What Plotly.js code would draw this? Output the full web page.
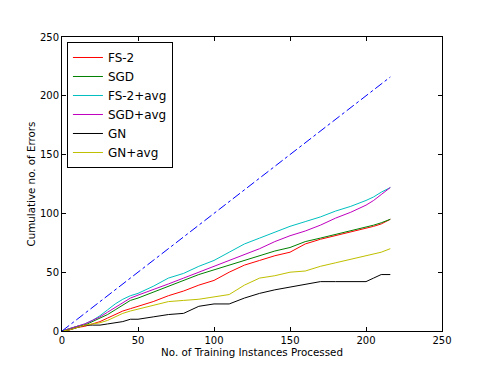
<!DOCTYPE html>
<html>
<head>
<meta charset="utf-8">
<script src="https://cdn.plot.ly/plotly-3.0.1.min.js"></script>
<style>
  body { margin: 0; background: #fff; }
  #plot { width: 491px; height: 368px; }
</style>
</head>
<body>
<div id="plot"></div>
<script>
// instances processed (x positions where values were read)
var instances = [0, 5, 10, 15, 20, 25, 30, 35, 40, 45, 50, 60, 70, 80, 90, 100, 110, 120, 130, 140, 150, 160, 170, 180, 190, 200, 205, 210, 216];

// cumulative errors per method
var fs2    = [0, 1, 3, 4, 6, 8, 11, 14, 17, 19, 21, 25, 30, 34, 39, 43, 50, 56, 60, 64, 67, 74, 78, 81, 84, 87, 89, 91, 95];
var sgd    = [0, 2, 4, 5, 8, 11, 14, 18, 22, 26, 28, 33, 37.5, 43, 48, 52, 56, 60, 64, 68, 71, 76, 79, 82, 85, 88, 90, 92, 95];
var fs2avg = [0, 2, 4, 6, 9, 13, 18, 23, 27, 30, 32, 38, 45, 49, 55, 60, 67, 74, 79, 84, 89, 93, 97, 102, 106, 111, 114, 118, 122];
var sgdavg = [0, 2, 4, 6, 9, 12, 16, 20, 24, 28, 30.5, 35, 40, 45, 50, 55, 60, 65, 70, 76, 81, 85, 90, 96, 101, 107, 111, 116, 122];
var gn     = [0, 1, 3, 5, 5, 5, 6, 7, 8, 10, 10, 12, 14, 15, 21, 23, 23, 28, 32, 35, 37.5, 40, 42, 42, 42, 42, 45, 48, 48];
var gnavg  = [0, 1, 3, 5, 6, 7, 9, 12, 15, 17, 18.5, 22, 25, 26, 27, 29, 31, 39, 45, 47, 50, 51, 55, 58, 61, 64, 65, 67, 70];

// reference diagonal (one error per instance)
var diagX = [0, 216];
var diagY = [0, 216];

var names  = ['FS-2', 'SGD', 'FS-2+avg', 'SGD+avg', 'GN', 'GN+avg'];
var series = [fs2, sgd, fs2avg, sgdavg, gn, gnavg];
var colors = ['#ff0000', '#008000', '#00bfbf', '#bf00bf', '#000000', '#bfbf00'];

var data = [];
for (var i = 0; i < names.length; i++) {
    data.push({
        x: instances,
        y: series[i],
        name: names[i],
        mode: 'lines',
        line: { color: colors[i], width: 1 }
    });
}
data.push({
    x: diagX,
    y: diagY,
    mode: 'lines',
    showlegend: false,
    line: { color: '#0000ff', width: 1, dash: 'dashdot' }
});

var axisStyle = {
    showgrid: false,
    zeroline: false,
    showline: true,
    linecolor: '#000',
    linewidth: 1,
    mirror: 'allticks',
    ticks: 'inside',
    ticklen: 4,
    tickcolor: '#000',
    tickfont: { size: 10, color: '#000' }
};

var layout = {
    width: 491,
    height: 368,
    margin: { l: 62, r: 49, t: 37, b: 37 },
    paper_bgcolor: '#fff',
    plot_bgcolor: '#fff',
    font: { family: 'DejaVu Sans, sans-serif', size: 10, color: '#000' },
    xaxis: Object.assign({}, axisStyle, {
        range: [0, 250],
        tickvals: [0, 50, 100, 150, 200, 250],
        title: { text: 'No. of Training Instances Processed', font: { size: 10.3 }, standoff: 0 }
    }),
    yaxis: Object.assign({}, axisStyle, {
        range: [0, 250],
        tickvals: [0, 50, 100, 150, 200, 250],
        title: { text: 'Cumulative no. of Errors', font: { size: 10.3 }, standoff: 2 }
    }),
    legend: {
        x: 0.013,
        y: 0.983,
        xanchor: 'left',
        yanchor: 'top',
        bgcolor: '#fff',
        bordercolor: '#000',
        borderwidth: 1,
        font: { size: 12 },
        tracegroupgap: 0
    },
    showlegend: true
};

Plotly.newPlot('plot', data, layout, { displayModeBar: false, staticPlot: true });
</script>
</body>
</html>
